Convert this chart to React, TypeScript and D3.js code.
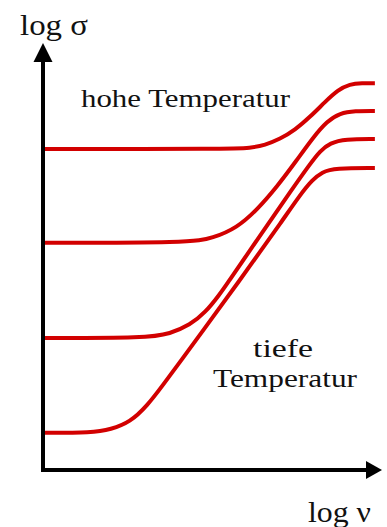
import React, { useEffect, useRef } from 'react';
import * as d3 from 'd3';

// log nu (0..100) / log sigma (0..100) readings for each curve, hot (top) to cold (bottom)
const curve1X = [0, 55.2, 61.1, 65.5, 69.9, 74.3, 78.8, 83.2, 87.0, 90.5, 94.1, 97.9];
const curve1Y = [75.2, 75.2, 75.4, 76.1, 77.5, 79.6, 82.7, 86.2, 89.0, 90.4, 90.6, 90.6];

const curve2X = [0, 43.4, 50.1, 57.2, 63.1, 69.0, 74.9, 79.6, 83.8, 87.6, 92.0, 97.9];
const curve2Y = [53.2, 53.2, 54.3, 56.7, 60.9, 66.3, 72.6, 77.8, 81.7, 83.6, 84.1, 84.1];

const curve3X = [0, 30.7, 37.5, 43.4, 47.8, 52.2, 54.6, 61.1, 67.0, 72.9, 78.8, 81.7, 84.7, 89.1, 97.9];
const curve3Y = [30.9, 30.9, 31.9, 34.0, 36.8, 41.2, 44.0, 51.5, 58.3, 65.1, 71.7, 74.7, 76.6, 77.5, 77.5];

const curve4X = [0, 14.5, 20.0, 25.7, 30.7, 35.4, 40.4, 50.1, 58.1, 64.0, 69.9, 75.8, 79.4, 82.3, 86.1, 97.9];
const curve4Y = [8.7, 8.7, 9.5, 11.2, 15.0, 19.9, 25.3, 35.8, 44.5, 51.1, 57.6, 64.4, 67.9, 69.8, 70.7, 70.7];

const xLabel = 'log ν';
const yLabel = 'log σ';
const hotLabel = 'hohe Temperatur';
const coldLabel = ['tiefe', 'Temperatur'];

function App() {
  const ref = useRef(null);

  useEffect(() => {
    const width = 387;
    const height = 527;
    const ox = 43;
    const oy = 470;

    d3.select(ref.current).select('svg').remove();

    const svg = d3.select(ref.current)
      .append('svg')
      .attr('width', width)
      .attr('height', height)
      .style('position', 'absolute')
      .style('left', 0)
      .style('top', 0)
      .style('background', '#fff');

    const x = d3.scaleLinear().domain([0, 100]).range([ox, 382]);
    const y = d3.scaleLinear().domain([0, 100]).range([oy, 43]);

    const curves = [
      [curve1X, curve1Y],
      [curve2X, curve2Y],
      [curve3X, curve3Y],
      [curve4X, curve4Y],
    ];

    const line = d3.line<number[]>()
      .x(d => x(d[0]))
      .y(d => y(d[1]))
      .curve(d3.curveBasis);

    curves.forEach(([xs, ys]) => {
      svg.append('path')
        .datum(xs.map((v, i) => [v, ys[i]]))
        .attr('d', line)
        .attr('fill', 'none')
        .attr('stroke', '#d20000')
        .attr('stroke-width', 4);
    });

    // axes with arrow heads
    svg.append('line')
      .attr('x1', ox).attr('y1', oy + 2)
      .attr('x2', ox).attr('y2', 58)
      .attr('stroke', '#000').attr('stroke-width', 4);
    svg.append('path')
      .attr('d', `M${ox},43 L${ox - 9.5},62 L${ox + 9.5},62 Z`)
      .attr('fill', '#000');

    svg.append('line')
      .attr('x1', ox - 2).attr('y1', oy)
      .attr('x2', 368).attr('y2', oy)
      .attr('stroke', '#000').attr('stroke-width', 4);
    svg.append('path')
      .attr('d', `M382,${oy} L366,${oy - 9} L366,${oy + 9} Z`)
      .attr('fill', '#000');

    const font = 'Liberation Serif';

    const label = (tx, ty, size, len, txt, anchor = 'start') =>
      svg.append('text')
        .attr('x', tx).attr('y', ty)
        .attr('text-anchor', anchor)
        .attr('font-family', font)
        .attr('font-size', size)
        .attr('textLength', len).attr('lengthAdjust', 'spacingAndGlyphs')
        .attr('fill', '#111')
        .text(txt);

    label(20, 35, 30, 68, yLabel);
    label(308, 522, 30, 63, xLabel);
    label(81, 107, 26, 209, hotLabel);
    label(283, 357, 26, 60, coldLabel[0], 'middle');
    label(285, 387, 26, 144, coldLabel[1], 'middle');
  }, []);

  return <div ref={ref} />;
}

export default App;
